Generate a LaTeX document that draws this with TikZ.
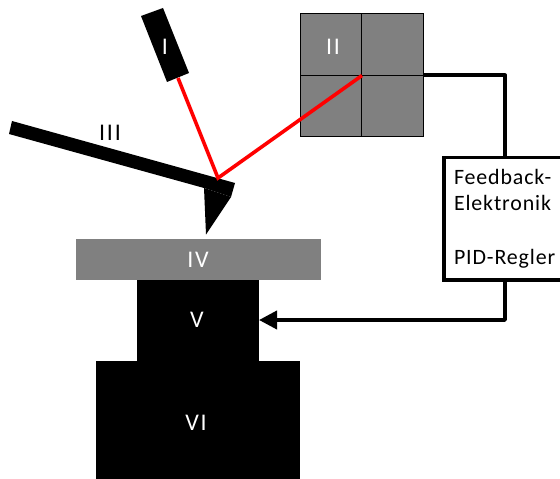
\documentclass[tikz,border=0pt]{standalone}
\usepackage{fontspec}
\setmainfont{Carlito}
\newfontfamily\boxfont[LetterSpace=4]{Carlito}
\newfontfamily\labfont[LetterSpace=8]{Carlito}
\usetikzlibrary{arrows.meta,calc}
\definecolor{plategray}{HTML}{808080}
\definecolor{beamred}{HTML}{FF0000}
\tikzset{
  lab/.style={font=\labfont\fontsize{24}{26}\selectfont,inner sep=0pt,text=white},
  solid block/.style={fill=black,draw=none,inner sep=0pt,outer sep=0pt,text=white},
  quad/.style={fill=plategray,draw=black,line width=1bp,minimum width=61.5bp,minimum height=61.5bp,inner sep=0pt,outer sep=0pt},
  wire/.style={line width=3.8bp,line join=round},
  beam/.style={line width=3.6bp,draw=beamred,line join=miter}
}
\begin{document}
\begin{tikzpicture}[x=1bp,y=-1bp]
\useasboundingbox (0,0) rectangle (560,479);
\clip (0,0) rectangle (560,479);
% stage stack
\node[solid block,minimum width=204bp,minimum height=118bp] (VI) at (198,420) {};
\node[solid block,minimum width=122bp,minimum height=82bp] (V) at (198,320) {};
\node[solid block,fill=plategray,minimum width=245bp,minimum height=41bp] (IV) at (198,259) {};
\node[lab] at (197,320) {V};
\node[lab] at (196,423) {VI};
\node[lab] at (198,259.5) {IV};
% quadrant photodiode
\node[quad] (q1) at (331.25,44.75) {};
\node[quad] (q2) at (392.25,44.75) {};
\node[quad] (q3) at (331.25,106) {};
\node[quad] (q4) at (392.25,106) {};
\node[lab] at (333,47) {II};
\coordinate (spot) at (q1.south east);
\coordinate (IIout) at (q4.north east);
% laser
\fill (141,16) -- (163,8) -- (189,73) -- (167,82) -- cycle;
\node[lab] at (165,47) {I};
\coordinate (laser) at (178,78);
% cantilever
\fill (12,121) -- (235,183) -- (231,197) -- (204,188) -- (9,134) -- cycle;
\fill (204,188) -- (231,197) -- (206,234.5) -- cycle;
\node[lab,text=black] at (110,133) {III};
\coordinate (hit) at (218,178);
% beam
\draw[beam] (laser) -- (hit) -- (spot);
% feedback
\node[draw=black,line width=3.8bp,fill=white,minimum width=122bp,minimum height=122.5bp,text width=102bp,inner xsep=10bp,inner ysep=0pt,outer sep=0pt,align=left,font=\boxfont\fontsize{22}{27}\selectfont] (fb) at (505,218.75) {Feedback-\\Elektronik\\[27bp]PID-Regler};
\draw[wire] (IIout) -| (fb.north);
\draw[wire,-{Triangle[length=18bp,width=18bp]}] (fb.south) |- (V.east);
\end{tikzpicture}
\end{document}
